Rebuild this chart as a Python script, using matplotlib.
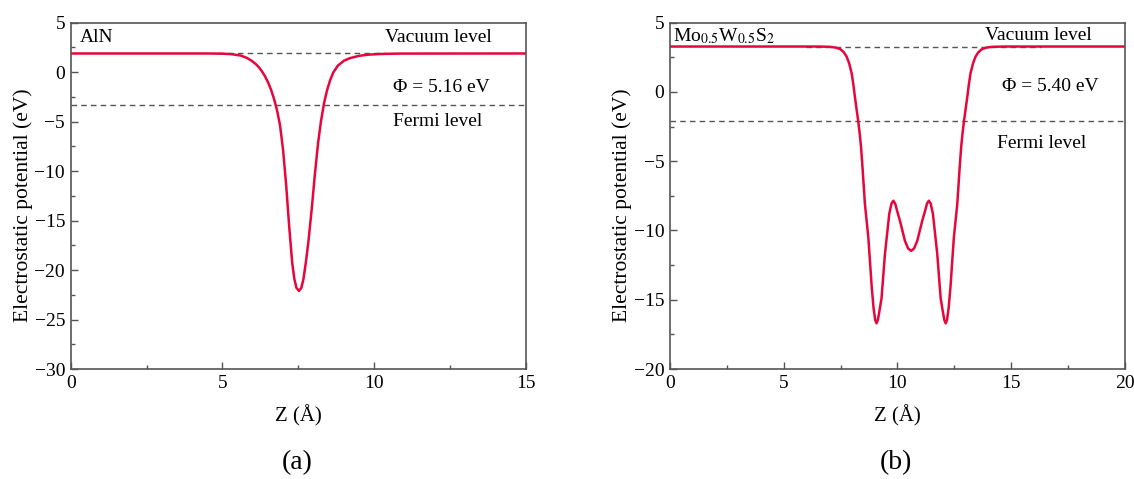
import numpy as np
import matplotlib
matplotlib.use('Agg')
import matplotlib.pyplot as plt

plt.rcParams['font.family'] = ['Liberation Serif', 'DejaVu Serif']
plt.rcParams['mathtext.fontset'] = 'stix'
plt.rcParams['font.size'] = 14

# (a) AlN
z_aln = [0.0, 4.5, 5.0, 5.3, 5.6, 5.8, 5.95, 6.1, 6.2, 6.3, 6.4, 6.5, 6.6, 6.7,
         6.8, 6.9, 7.0, 7.1, 7.2, 7.3, 7.37, 7.44, 7.52, 7.6, 7.67, 7.75, 7.83,
         7.94, 8.05, 8.15, 8.25, 8.35, 8.45, 8.55, 8.65, 8.8, 9.0, 9.2, 9.5, 9.8,
         10.2, 10.8, 15.0]
v_aln = [1.89, 1.89, 1.87, 1.82, 1.68, 1.45, 1.18, 0.82, 0.5, 0.1, -0.4, -1.0, -1.75, -2.7,
         -3.85, -5.4, -7.9, -11.4, -15.6, -19.3, -20.9, -21.8, -22.1, -21.8, -20.9, -19.2, -17.2,
         -13.9, -10.2, -7.2, -4.9, -3.1, -1.8, -0.8, -0.05, 0.65, 1.15, 1.42, 1.65, 1.77,
         1.84, 1.88, 1.89]
vac_aln = 1.89
fermi_aln = vac_aln - 5.16

# (b) Mo0.5W0.5S2
z_mws = [0.0, 6.5, 7.03, 7.3, 7.5, 7.65, 7.77, 7.88, 7.99, 8.06, 8.13, 8.2, 8.28, 8.34,
         8.40, 8.47, 8.57, 8.72, 8.87, 8.95, 9.02, 9.08, 9.14, 9.21, 9.30, 9.45, 9.64,
         9.74, 9.82, 9.9, 9.98, 10.11, 10.33, 10.47, 10.6, 10.73, 10.87, 11.09, 11.22,
         11.3, 11.38, 11.46, 11.56, 11.75, 11.9, 11.99, 12.06, 12.12, 12.18, 12.25,
         12.33, 12.48, 12.63, 12.73, 12.8, 12.86, 12.92, 13.0, 13.07, 13.14, 13.21,
         13.32, 13.43, 13.55, 13.7, 13.9, 14.17, 14.7, 20.0]
v_mws = [3.28, 3.28, 3.26, 3.2, 3.08, 2.85, 2.54, 2.05, 1.33, 0.55, -0.36, -1.2, -2.17, -3.0,
         -3.99, -5.6, -8.09, -10.5, -14.1, -15.6, -16.45, -16.7, -16.45, -15.8, -14.9, -11.7, -8.8,
         -8.05, -7.85, -8.05, -8.55, -9.3, -10.75, -11.3, -11.47, -11.3, -10.75, -9.3, -8.55,
         -8.05, -7.85, -8.05, -8.8, -11.7, -14.9, -15.8, -16.45, -16.7, -16.45, -15.6,
         -14.1, -10.5, -8.09, -5.6, -3.99, -3.0, -2.17, -1.2, -0.36, 0.55, 1.33,
         2.05, 2.54, 2.85, 3.08, 3.2, 3.26, 3.28, 3.28]
vac_mws = 3.28
fermi_mws = vac_mws - 5.40

red = '#e6063c'
spine_col = '#555555'

fig = plt.figure(figsize=(11.34, 4.79), dpi=100)
ax1 = fig.add_axes([0.0623, 0.2296, 0.4015, 0.723])
ax2 = fig.add_axes([0.5908, 0.2296, 0.4012, 0.723])


def style(ax, xlim, ylim, xmaj, ymaj):
    ax.set_xlim(*xlim)
    ax.set_ylim(*ylim)
    ax.set_xticks(np.arange(xlim[0], xlim[1] + 0.1, xmaj))
    ax.set_xticks(np.arange(xlim[0], xlim[1] + 0.1, xmaj / 2), minor=True)
    ax.set_yticks(np.arange(ylim[0], ylim[1] + 0.1, ymaj))
    ax.set_yticks(np.arange(ylim[0], ylim[1] + 0.1, ymaj / 2), minor=True)
    ax.tick_params(which='both', direction='in', color=spine_col, width=1,
                   top=False, right=False, labelsize=14, pad=4)
    ax.tick_params(which='major', length=5)
    ax.tick_params(which='minor', length=3)
    for s in ax.spines.values():
        s.set_color(spine_col)
        s.set_linewidth(1.2)
    ax.set_xlabel('Z (Å)', fontsize=15, labelpad=10)
    ax.set_ylabel('Electrostatic potential (eV)', fontsize=15.5)
    ax.yaxis.set_label_coords(-0.083, 0.474)


# panel (a)
style(ax1, (0, 15), (-30, 5), 5, 5)
ax1.plot([4.85, 10.4], [vac_aln, vac_aln], color='#555555', lw=1, dashes=(4, 3))
ax1.axhline(fermi_aln, color='#555555', lw=1, dashes=(4, 3))
ax1.plot(z_aln, v_aln, color=red, lw=1.8)
ax1.text(0.3, 3.5, 'AlN', fontsize=14, va='center', ha='left')
ax1.text(12.1, 3.5, 'Vacuum level', fontsize=14, va='center', ha='center')
ax1.text(12.2, -1.5, 'Φ = 5.16 eV', fontsize=14, va='center', ha='center')
ax1.text(12.1, -4.95, 'Fermi level', fontsize=14, va='center', ha='center')

# panel (b)
style(ax2, (0, 20), (-20, 5), 5, 5)
ax2.plot([6.0, 16.3], [vac_mws, vac_mws], color='#555555', lw=1, dashes=(4, 3))
ax2.axhline(fermi_mws, color='#555555', lw=1, dashes=(4, 3))
ax2.plot(z_mws, v_mws, color=red, lw=1.8)
ax2.text(0.15, 4.0, r'Mo$_{0.5}$W$_{0.5}$S$_2$', fontsize=14, va='center', ha='left')
ax2.text(16.2, 4.1, 'Vacuum level', fontsize=14, va='center', ha='center')
ax2.text(16.7, 0.4, 'Φ = 5.40 eV', fontsize=14, va='center', ha='center')
ax2.text(16.35, -3.7, 'Fermi level', fontsize=14, va='center', ha='center')

fig.text(0.262, 0.035, '(a)', fontsize=20, ha='center', va='center')
fig.text(0.79, 0.035, '(b)', fontsize=20, ha='center', va='center')

fig.savefig('out.png', dpi=100, facecolor='white')
